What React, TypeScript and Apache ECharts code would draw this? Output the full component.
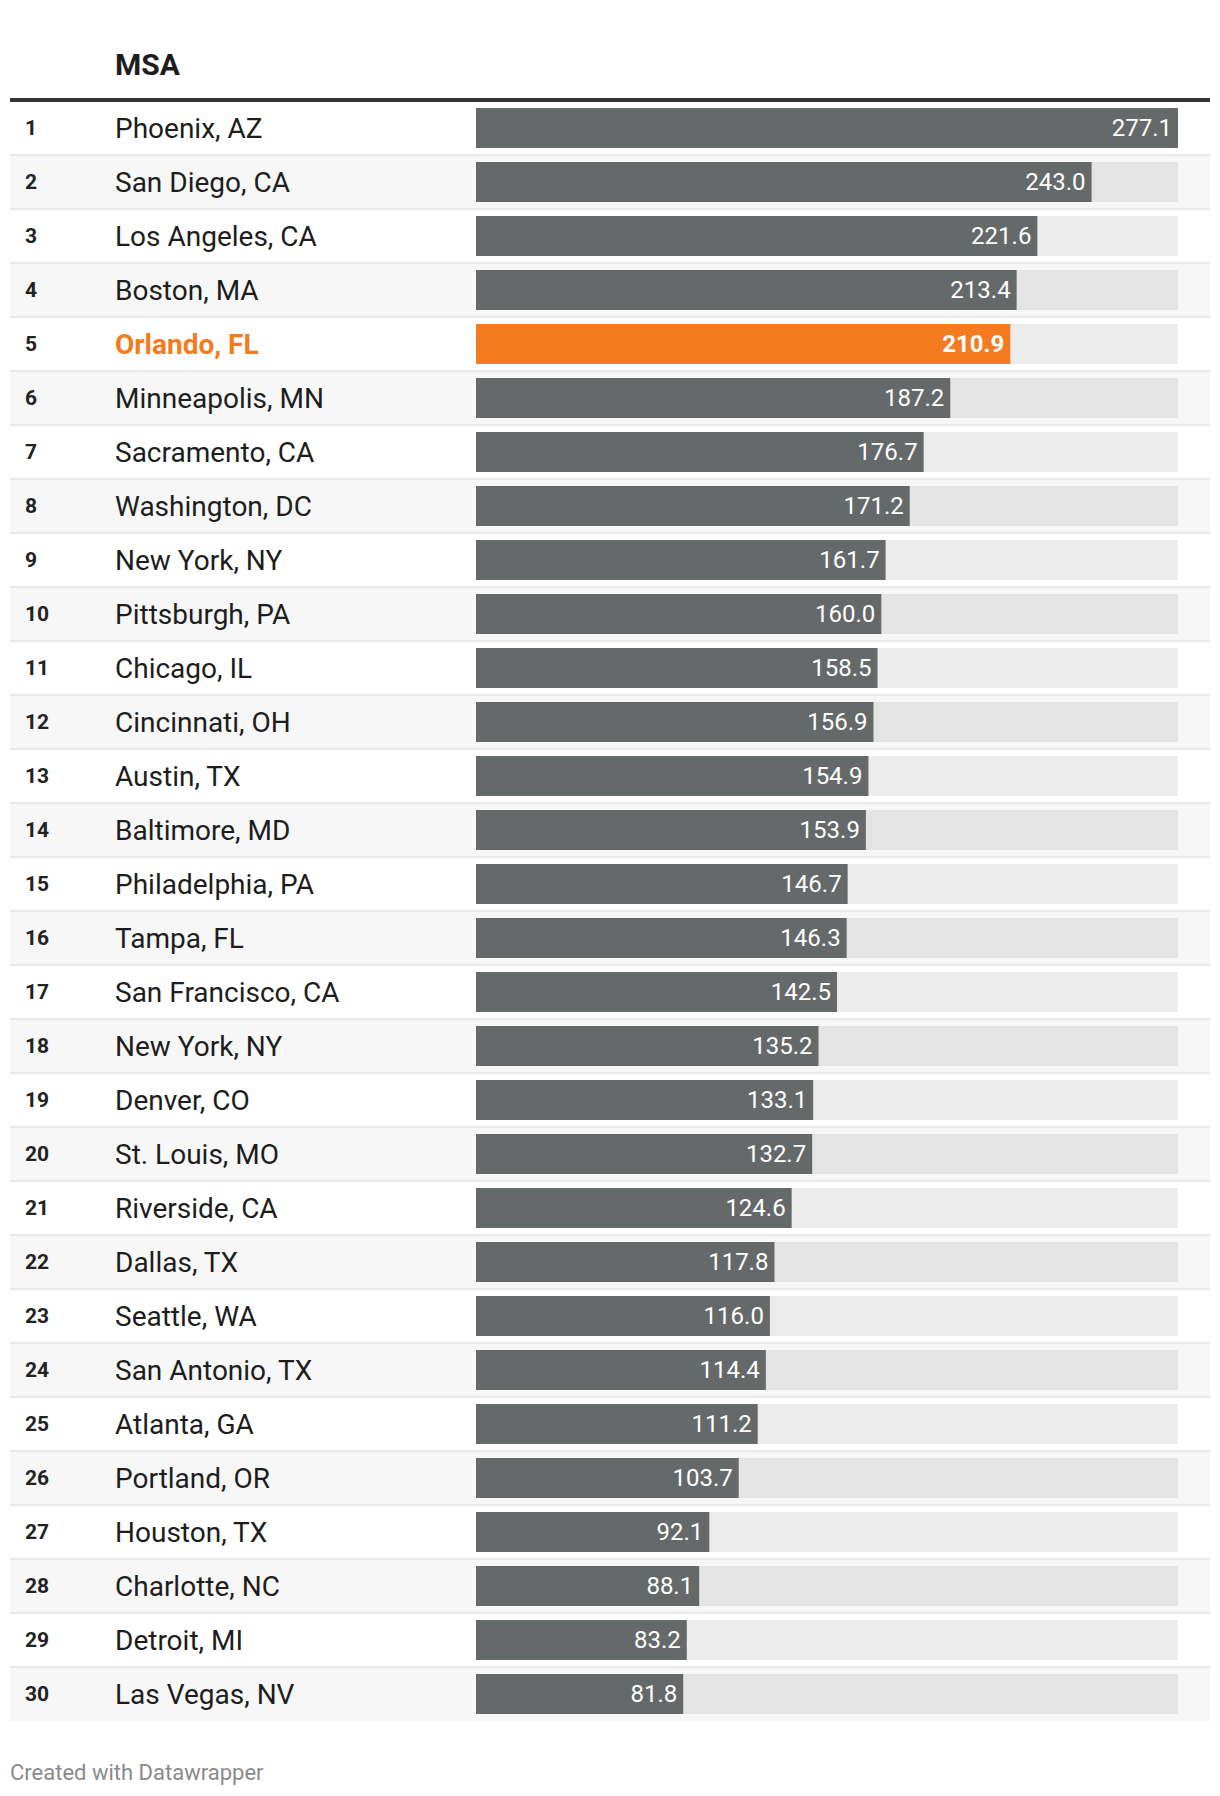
import React, { useEffect, useRef } from "react";
import * as echarts from "echarts";

const ranks = ["1", "2", "3", "4", "5", "6", "7", "8", "9", "10", "11", "12", "13", "14", "15", "16", "17", "18", "19", "20", "21", "22", "23", "24", "25", "26", "27", "28", "29", "30"];
const categories = [
  "Phoenix, AZ", "San Diego, CA", "Los Angeles, CA", "Boston, MA", "Orlando, FL",
  "Minneapolis, MN", "Sacramento, CA", "Washington, DC", "New York, NY", "Pittsburgh, PA",
  "Chicago, IL", "Cincinnati, OH", "Austin, TX", "Baltimore, MD", "Philadelphia, PA",
  "Tampa, FL", "San Francisco, CA", "New York, NY", "Denver, CO", "St. Louis, MO",
  "Riverside, CA", "Dallas, TX", "Seattle, WA", "San Antonio, TX", "Atlanta, GA",
  "Portland, OR", "Houston, TX", "Charlotte, NC", "Detroit, MI", "Las Vegas, NV",
];
const values = [
  277.1, 243.0, 221.6, 213.4, 210.9, 187.2, 176.7, 171.2, 161.7, 160.0,
  158.5, 156.9, 154.9, 153.9, 146.7, 146.3, 142.5, 135.2, 133.1, 132.7,
  124.6, 117.8, 116.0, 114.4, 111.2, 103.7, 92.1, 88.1, 83.2, 81.8,
];
const highlightIndex = 4;
const headerText = "MSA";
const footerText = "Created with Datawrapper";

const GRAY = "#65696a";
const ORANGE = "#f47b20";
const FONT = "Roboto";

export default function App() {
  const ref = useRef<HTMLDivElement>(null);
  useEffect(() => {
    if (!ref.current) return;
    const chart = echarts.init(ref.current, null, { renderer: "svg" });
    const rowTop = 101;
    const rowH = 54;
    const n = categories.length;
    const maxV = Math.max(...values);
    chart.setOption({
      animation: false,
      backgroundColor: "#ffffff",
      grid: [
        { left: 10, right: 10, top: rowTop, height: rowH * n, containLabel: false },
        { left: 476, right: 42, top: rowTop, height: rowH * n, containLabel: false },
      ],
      xAxis: [
        { gridIndex: 0, type: "value", min: 0, max: 1, show: false },
        { gridIndex: 1, type: "value", min: 0, max: maxV, show: false },
      ],
      yAxis: [
        {
          gridIndex: 0,
          type: "category",
          inverse: true,
          data: ranks,
          axisLine: { show: false },
          axisTick: { show: false },
          splitArea: { show: true, areaStyle: { color: ["#ffffff", "#f7f7f7"] } },
          splitLine: {
            show: true,
            showMinLine: false,
            showMaxLine: false,
            lineStyle: { color: "#e9e9e9", width: 2 },
          },
          axisLabel: {
            inside: true,
            margin: 15,
            formatter: (val: string, idx: number) =>
              idx === highlightIndex
                ? `{r|${val}}{h|${categories[idx]}}`
                : `{r|${val}}{n|${categories[idx]}}`,
            rich: {
              r: { width: 90, fontSize: 21, fontWeight: "bold", color: "#222222", fontFamily: FONT },
              n: { fontSize: 28, color: "#1d1d1d", fontFamily: FONT },
              h: { fontSize: 28, fontWeight: "bold", color: ORANGE, fontFamily: FONT },
            },
          },
        },
        {
          gridIndex: 1,
          type: "category",
          inverse: true,
          data: ranks,
          show: false,
        },
      ],
      graphic: [
        { type: "rect", shape: { x: 10, y: 98, width: 1200, height: 4 }, style: { fill: "#333333" }, z: 10 },
        {
          type: "text",
          x: 115,
          y: 64,
          style: { text: headerText, fontSize: 30, fontWeight: "bold", fill: "#1d1d1d", fontFamily: FONT, verticalAlign: "middle" },
        },
        {
          type: "text",
          x: 10,
          y: 1772,
          style: { text: footerText, fontSize: 22, fill: "#8a8a8a", fontFamily: FONT, verticalAlign: "middle" },
        },
      ],
      series: [
        {
          type: "bar",
          xAxisIndex: 1,
          yAxisIndex: 1,
          barWidth: 40,
          showBackground: true,
          backgroundStyle: { color: "rgba(0,0,0,0.075)" },
          data: values.map((v, i) => ({
            value: v,
            itemStyle: { color: i === highlightIndex ? ORANGE : GRAY },
            label: i === highlightIndex ? { fontWeight: "bold" } : undefined,
          })),
          label: {
            show: true,
            position: "insideRight",
            distance: 6,
            color: "#ffffff",
            fontSize: 24,
            fontFamily: FONT,
            formatter: (p: any) => Number(p.value).toFixed(1),
          },
        },
      ],
    });
    return () => chart.dispose();
  }, []);
  return (
    <div
      ref={ref}
      style={{ position: "absolute", left: 0, top: 0, width: 1220, height: 1796 }}
    />
  );
}
